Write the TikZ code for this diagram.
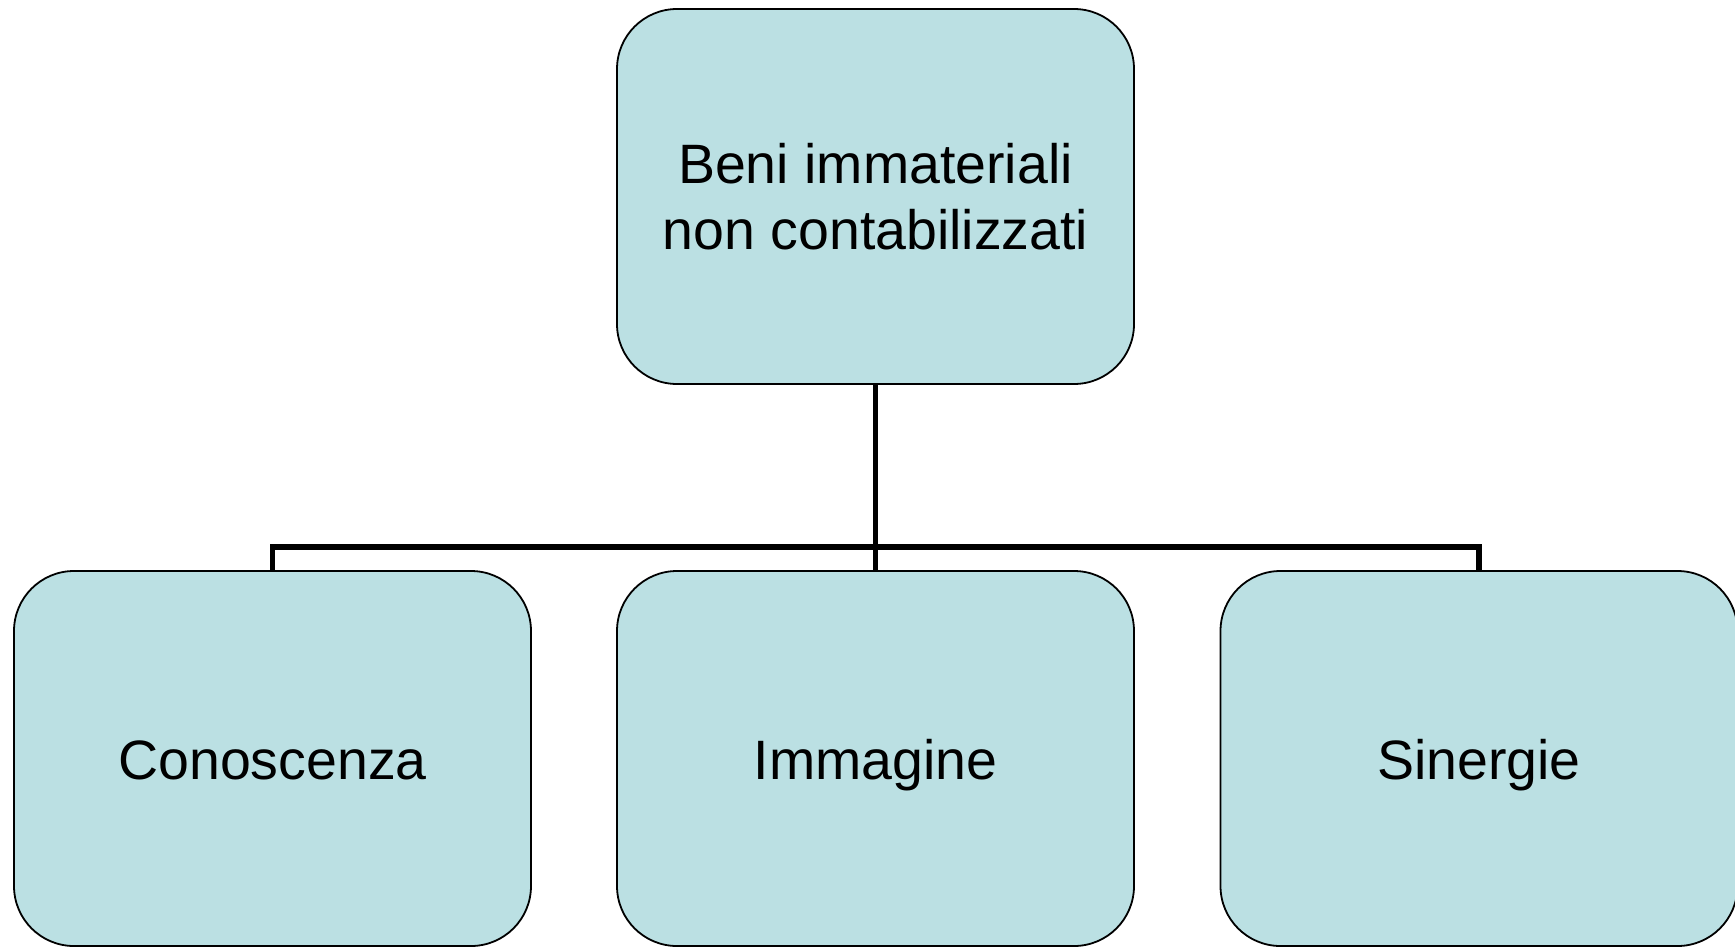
\documentclass[tikz,border=0pt]{standalone}
\usepackage{fontspec}
\setmainfont{Liberation Sans}
\begin{document}
\begin{tikzpicture}[x=1pt,y=-1pt,
  box/.style={draw=black, line width=1.8pt, fill=boxfill, rounded corners=60pt,
    minimum width=517pt, minimum height=375pt, inner sep=0pt, align=center,
    font=\fontsize{55.5}{66}\selectfont},
  leaf/.style={box, text height=47pt, text depth=5pt},
  conn/.style={draw=black, line width=5.5pt}]
\definecolor{boxfill}{HTML}{BBE0E3}
\useasboundingbox (0,0) rectangle (1735,946);
% root and the three children
\node[box] (root) at (875.5,196.5) {Beni immateriali\\non contabilizzati};
\node[leaf] (know) at (272.5,758.5) {Conoscenza};
\node[leaf] (image) at (875.5,758.5) {Immagine};
\node[leaf] (syn) at (1479,758.5) {Sinergie};
% tree connectors through a common bus
\coordinate (bus) at (875.5,547);
\draw[conn] (root.south) -- (root.south |- bus);
\draw[conn] (know.north) -- (know.north |- bus) -- (syn.north |- bus) -- (syn.north);
\draw[conn] (image.north) -- (image.north |- bus);
\end{tikzpicture}
\end{document}
